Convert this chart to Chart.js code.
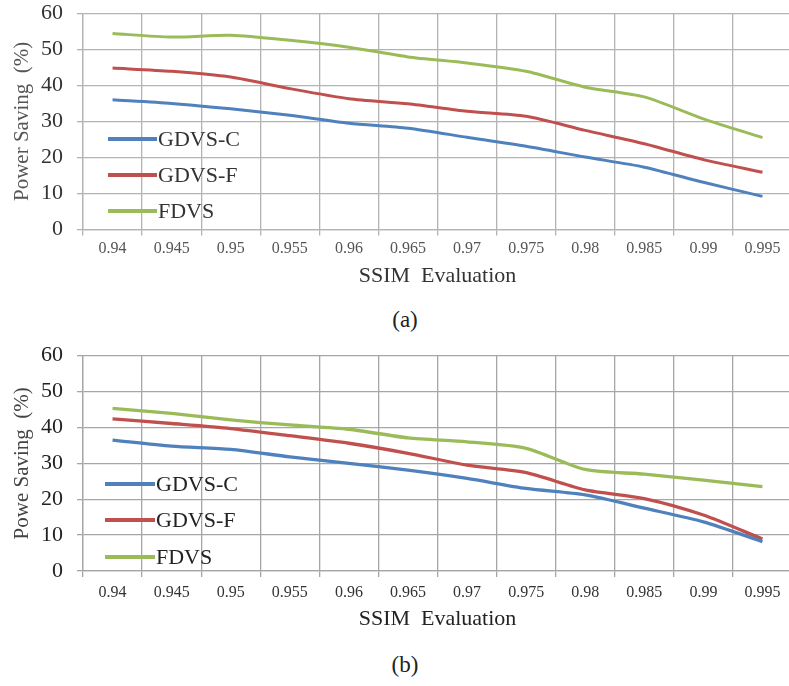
<!DOCTYPE html>
<html><head><meta charset="utf-8">
<script src="https://cdn.jsdelivr.net/npm/chart.js@4.4.1/dist/chart.umd.min.js"></script>
<style>
html,body{margin:0;padding:0;background:#fff;overflow:hidden;width:789px;height:686px;position:relative;}
.wrap{position:absolute;left:0;width:795px;height:300px;}
.cap{position:absolute;left:380px;width:50px;text-align:center;font-family:"Liberation Serif","Times New Roman",serif;font-size:23px;line-height:26px;color:#222;}
</style></head><body>
<div class="wrap" style="top:0"><canvas id="ca" width="795" height="300"></canvas></div>
<div class="wrap" style="top:340px"><canvas id="cb" width="795" height="300"></canvas></div>
<div class="cap" style="top:307px">(a)</div>
<div class="cap" style="top:652px">(b)</div>
<script>
// ---- data ----
const ssimLabels = ['0.94','0.945','0.95','0.955','0.96','0.965','0.97','0.975','0.98','0.985','0.99','0.995'];
const yTickValues = [0, 10, 20, 30, 40, 50, 60];
const seriesNames = ['GDVS-C', 'GDVS-F', 'FDVS'];

// chart (a)
const gdvsC_a = [36.0, 35.0, 33.5, 31.7, 29.5, 28.1, 25.6, 23.1, 20.1, 17.3, 13.1, 9.2];
const gdvsF_a = [44.8, 43.9, 42.3, 39.1, 36.3, 34.9, 32.8, 31.4, 27.5, 23.8, 19.4, 15.9];
const fdvs_a  = [54.4, 53.4, 53.9, 52.5, 50.6, 47.9, 46.2, 43.9, 39.5, 36.8, 30.7, 25.5];

// chart (b)
const gdvsC_b = [36.5, 34.8, 33.9, 31.8, 30.0, 28.1, 25.8, 23.0, 21.2, 17.5, 13.7, 8.2];
const gdvsF_b = [42.4, 41.1, 39.7, 37.7, 35.6, 32.8, 29.5, 27.4, 22.6, 20.2, 15.6, 8.9];
const fdvs_b  = [45.3, 43.9, 42.1, 40.7, 39.5, 37.1, 36.0, 34.2, 28.3, 27.0, 25.3, 23.5];

const colors = ['#4F81BD', '#C0504D', '#9BBB59'];
const SERIF = '"Liberation Serif","Times New Roman",serif';

const inlineLegend = {
  id: 'inlineLegend',
  afterDraw(chart, args, opts) {
    const {ctx, chartArea} = chart;
    ctx.save();
    ctx.font = opts.font;
    ctx.textBaseline = 'middle';
    ctx.textAlign = 'left';
    chart.data.datasets.forEach((ds, i) => {
      const y = chartArea.bottom - opts.rows[i];
      ctx.strokeStyle = ds.borderColor;
      ctx.lineWidth = 4;
      ctx.lineCap = 'butt';
      ctx.beginPath(); ctx.moveTo(opts.x0, y); ctx.lineTo(opts.x1, y); ctx.stroke();
      ctx.fillStyle = opts.color;
      ctx.fillText(ds.label, opts.x1 + 1, y + 1);
    });
    ctx.restore();
  }
};

function makeChart(id, series, yTitle, cfg) {
  const datasets = series.map((vals, i) => ({
    label: seriesNames[i],
    data: vals,
    borderColor: colors[i],
    backgroundColor: colors[i],
    borderWidth: cfg.lw,
    pointRadius: 0,
    tension: 0.25,
    fill: false
  }));
  return new Chart(document.getElementById(id), {
    type: 'line',
    data: { labels: ssimLabels, datasets },
    options: {
      responsive: false,
      animation: false,
      devicePixelRatio: 1,
      layout: { padding: { top: cfg.top, left: 0, right: 3, bottom: 0 } },
      plugins: {
        legend: { display: false },
        tooltip: { enabled: false },
        inlineLegend: { rows: cfg.rows, x0: cfg.lx0, x1: cfg.lx1, font: '22px ' + SERIF, color: cfg.textColor }
      },
      scales: {
        x: {
          offset: true,
          grid: { offset: true, color: cfg.grid, lineWidth: 1.3, tickLength: 6, drawTicks: true },
          border: { color: cfg.grid, width: 1.3 },
          ticks: { font: { family: SERIF, size: 16 }, color: cfg.tickColorX, padding: cfg.xTickPad, maxRotation: 0, autoSkip: false },
          title: { display: true, text: 'SSIM  Evaluation', font: { family: SERIF, size: 22 }, color: cfg.textColor, padding: { top: 0, bottom: cfg.xTitlePad } },
          afterFit(scale) { scale.height = cfg.xh; }
        },
        y: {
          min: 0, max: 60,
          afterBuildTicks(scale) { scale.ticks = yTickValues.map(v => ({ value: v })); },
          grid: { color: cfg.grid, lineWidth: 1.3, tickLength: 6 },
          border: { color: cfg.grid, width: 1.3 },
          ticks: { font: { family: SERIF, size: 22 }, color: cfg.tickColorY, padding: 14 },
          title: { display: true, text: yTitle, font: { family: SERIF, size: 21 }, color: cfg.yTitleColor, padding: { top: 10, bottom: 0 } },
          afterFit(scale) { scale.width = 83; scale.paddingTop = 0; scale.paddingBottom = 0; }
        }
      }
    },
    plugins: [inlineLegend]
  });
}

makeChart('ca', [gdvsC_a, gdvsF_a, fdvs_a], 'Power Saving  (%)', {
  top: 13.3, xh: 70.5, xTitlePad: 11, xTickPad: 4, lw: 3,
  rows: [90.5, 54.5, 18.5], lx0: 108, lx1: 157,
  grid: '#b3b3b3', textColor: '#333', tickColorX: '#555', tickColorY: '#333', yTitleColor: '#555'
});
makeChart('cb', [gdvsC_b, gdvsF_b, fdvs_b], 'Powe Saving  (%)', {
  top: 15.7, xh: 69, xTitlePad: 8, xTickPad: 6, lw: 3.3,
  rows: [87, 51, 14], lx0: 105, lx1: 155,
  grid: '#a6a6a6', textColor: '#222', tickColorX: '#333', tickColorY: '#222', yTitleColor: '#444'
});
</script>
</body></html>
